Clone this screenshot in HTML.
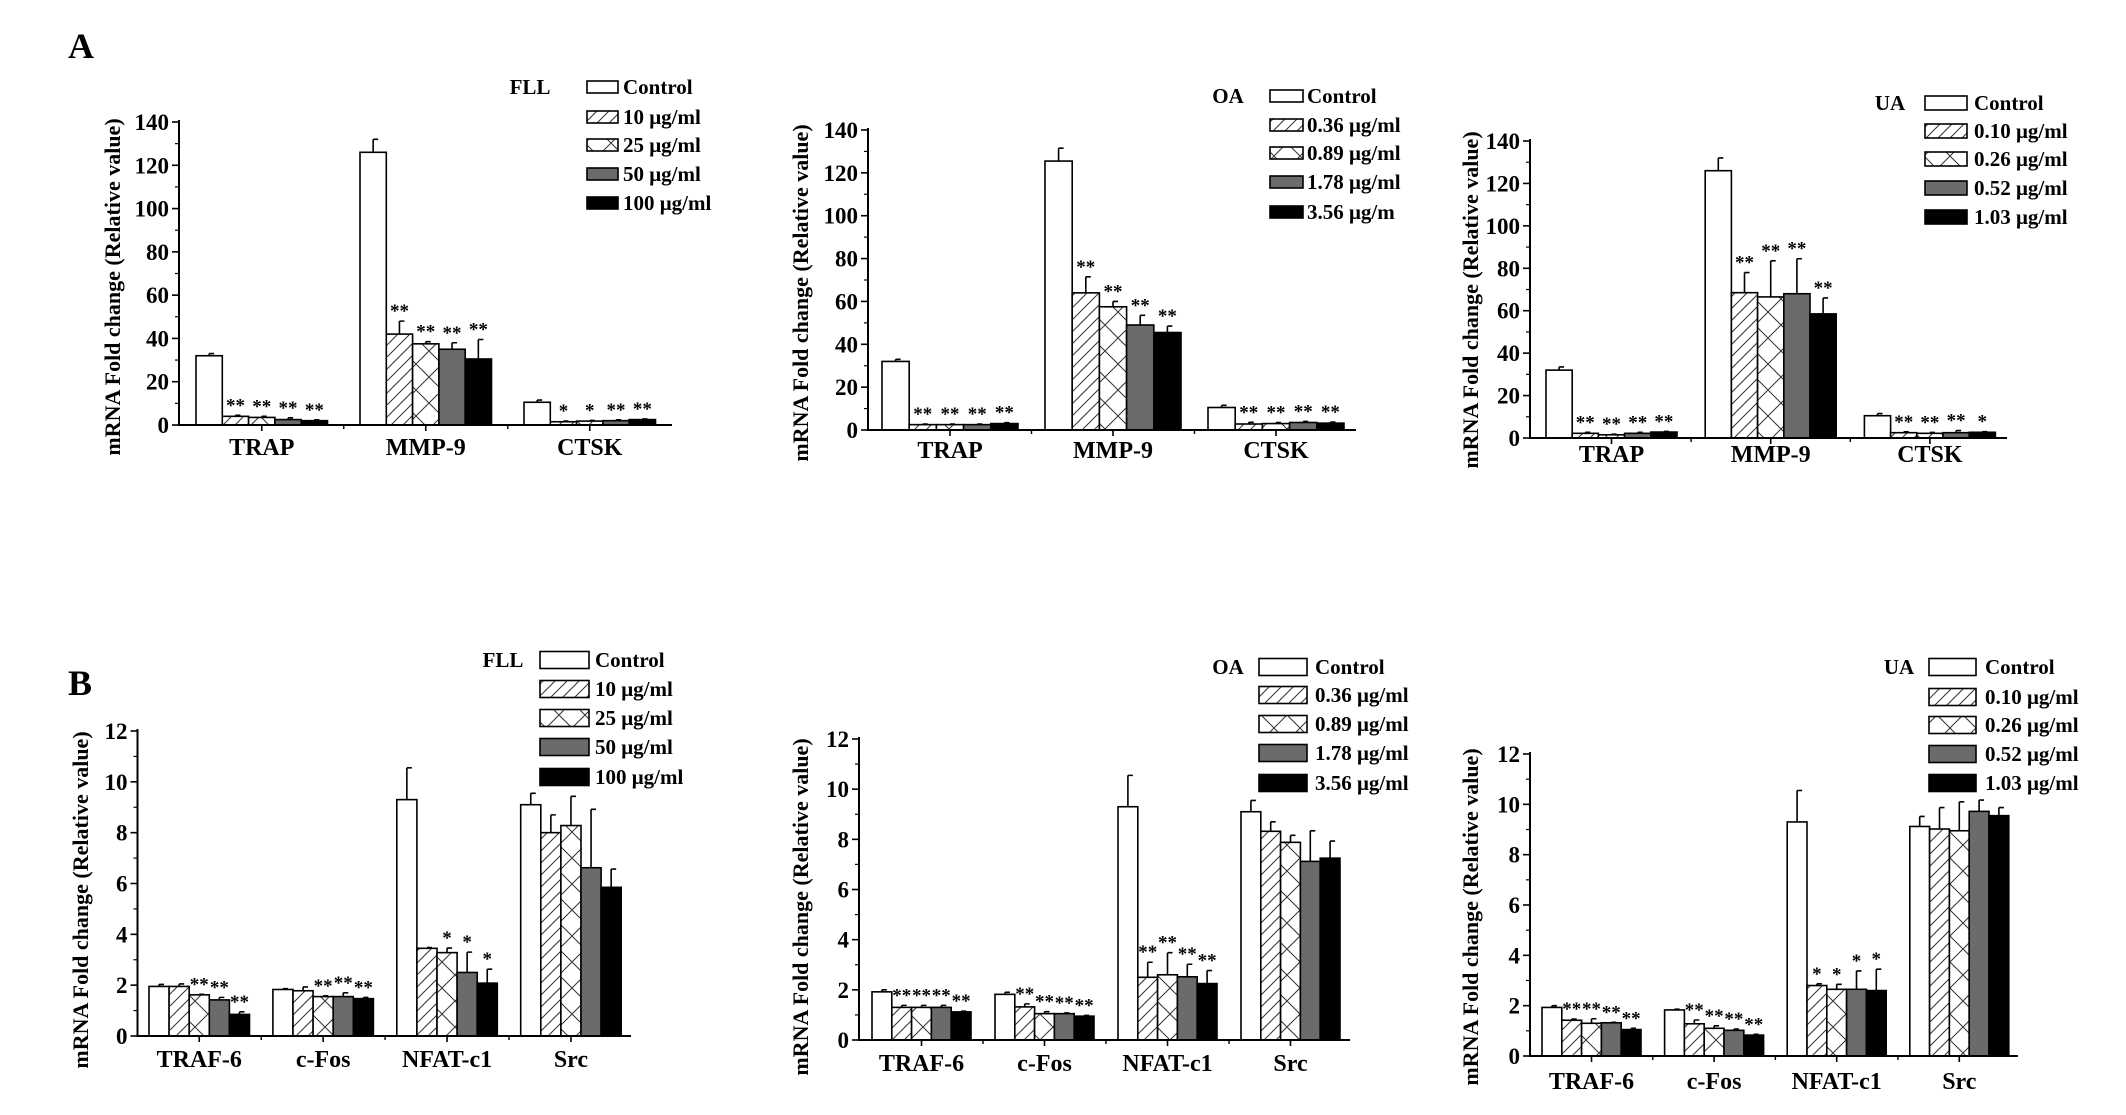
<!DOCTYPE html>
<html><head><meta charset="utf-8"><style>
html,body{margin:0;padding:0;background:#fff;}
svg{display:block;}
text{font-family:"Liberation Serif",serif;font-weight:bold;fill:#000;}
</style></head><body>
<svg id="fig" width="2126" height="1115" viewBox="0 0 2126 1115" xmlns="http://www.w3.org/2000/svg">
<defs>
<pattern id="hatch" patternUnits="userSpaceOnUse" width="12" height="12" patternTransform="rotate(0)">
<rect width="12" height="12" fill="#fff"/>
<path d="M-3,15 L15,-3 M-3,3 L3,-3 M9,15 L15,9" stroke="#333" stroke-width="1"/>
</pattern>
<pattern id="cross" patternUnits="userSpaceOnUse" width="26" height="26">
<rect width="26" height="26" fill="#fff"/>
<path d="M0,0 L26,26 M26,0 L0,26" stroke="#333" stroke-width="1"/>
</pattern>
</defs>
<text x="68" y="58" font-size="36">A</text>
<text x="68" y="695" font-size="36">B</text>
</svg>
<script>
// ---- data ----
const catsA = ["TRAP", "MMP-9", "CTSK"];
const catsB = ["TRAF-6", "c-Fos", "NFAT-c1", "Src"];
const legFLL = ["Control", "10 μg/ml", "25 μg/ml", "50 μg/ml", "100 μg/ml"];
const legOA = ["Control", "0.36 μg/ml", "0.89 μg/ml", "1.78 μg/ml", "3.56 μg/ml"];
const legOAcut = ["Control", "0.36 μg/ml", "0.89 μg/ml", "1.78 μg/ml", "3.56 μg/m"];
const legUA = ["Control", "0.10 μg/ml", "0.26 μg/ml", "0.52 μg/ml", "1.03 μg/ml"];
const ticksA = [0, 20, 40, 60, 80, 100, 120, 140];
const ticksB = [0, 2, 4, 6, 8, 10, 12];

const aFllVals = [[32, 4, 3.5, 2.5, 2], [126, 42, 37.5, 35, 30.5], [10.5, 1.5, 1.8, 2, 2.5]];
const aFllErr = [[1, 0.5, 0.5, 0.8, 0.4], [6, 6, 1, 3, 9], [1, 0.3, 0.3, 0.4, 0.3]];
const aFllStars = [["", "**", "**", "**", "**"], ["", "**", "**", "**", "**"], ["", "*", "*", "**", "**"]];

const aOaVals = [[32, 2.5, 2.5, 2.5, 3], [125.5, 64, 57.5, 49, 45.5], [10.5, 2.8, 3, 3.5, 3.2]];
const aOaErr = [[1, 0.3, 0.3, 0.3, 0.4], [6, 7.5, 2.5, 4.5, 3], [1, 0.8, 0.5, 0.5, 0.5]];
const aOaStars = [["", "**", "**", "**", "**"], ["", "**", "**", "**", "**"], ["", "**", "**", "**", "**"]];

const aUaVals = [[32, 2.2, 1.5, 2.2, 2.8], [126, 68.5, 66.5, 68, 58.5], [10.5, 2.5, 2.2, 2.5, 2.7]];
const aUaErr = [[1.5, 0.5, 0.3, 0.5, 0.3], [6, 9.5, 17, 16.5, 7.5], [1, 0.4, 0.4, 1, 0.3]];
const aUaStars = [["", "**", "**", "**", "**"], ["", "**", "**", "**", "**"], ["", "**", "**", "**", "*"]];

const bFllVals = [[1.95, 1.95, 1.62, 1.42, 0.85], [1.83, 1.78, 1.55, 1.55, 1.47], [9.3, 3.45, 3.28, 2.5, 2.08], [9.1, 8.0, 8.28, 6.62, 5.85]];
const bFllErr = [[0.08, 0.1, 0.02, 0.1, 0.1], [0.03, 0.15, 0.03, 0.15, 0.05], [1.25, 0.03, 0.18, 0.8, 0.55], [0.45, 0.7, 1.15, 2.3, 0.72]];
const bFllStars = [["", "", "**", "**", "**"], ["", "", "**", "**", "**"], ["", "", "*", "*", "*"], ["", "", "", "", ""]];

const bOaVals = [[1.92, 1.3, 1.3, 1.3, 1.12], [1.82, 1.32, 1.05, 1.05, 0.95], [9.3, 2.5, 2.6, 2.52, 2.25], [9.1, 8.32, 7.88, 7.12, 7.25]];
const bOaErr = [[0.08, 0.08, 0.08, 0.08, 0.03], [0.08, 0.12, 0.08, 0.03, 0.03], [1.25, 0.6, 0.88, 0.5, 0.52], [0.45, 0.38, 0.28, 1.22, 0.68]];
const bOaStars = [["", "**", "**", "**", "**"], ["", "**", "**", "**", "**"], ["", "**", "**", "**", "**"], ["", "", "", "", ""]];

const bUaVals = [[1.93, 1.42, 1.3, 1.32, 1.05], [1.83, 1.28, 1.1, 1.02, 0.83], [9.3, 2.8, 2.65, 2.65, 2.6], [9.12, 9.02, 8.95, 9.72, 9.55]];
const bUaErr = [[0.07, 0.05, 0.18, 0.02, 0.05], [0.03, 0.15, 0.1, 0.05, 0.03], [1.25, 0.07, 0.2, 0.73, 0.85], [0.4, 0.85, 1.15, 0.45, 0.32]];
const bUaStars = [["", "**", "**", "**", "**"], ["", "**", "**", "**", "**"], ["", "*", "*", "*", "*"], ["", "", "", "", ""]];

// ---- drawing ----
const svg = document.getElementById('fig');
const NS = 'http://www.w3.org/2000/svg';
const fills = ['#fff', 'url(#hatch)', 'url(#cross)', '#6b6b6b', '#000'];
function mk(tag, attrs, parent) {
  const e = document.createElementNS(NS, tag);
  for (const k in attrs) e.setAttribute(k, attrs[k]);
  (parent || svg).appendChild(e);
  return e;
}
function drawPanel(cfg) {
  const g = mk('g', {});
  
  
  const ymax = cfg.ticks[cfg.ticks.length - 1];
  const yS = v => cfg.y0 - (v / ymax) * (cfg.y0 - cfg.yTop);
  const xS = (gi, bi) => cfg.g0 + gi * cfg.step + bi * cfg.bw;
  // bars
  cfg.vals.forEach((arr, gi) => {
    arr.forEach((v, bi) => {
      const x = xS(gi, bi), y = yS(v);
      const r = mk('rect', {x: x, y: y, width: cfg.bw, height: cfg.y0 - y, fill: fills[bi], stroke: '#000', 'stroke-width': 1.6}, g);
      
      
      const ye = yS(v + cfg.err[gi][bi]);
      const xc = x + cfg.bw / 2;
      const eb = mk('path', {d: `M${xc},${y} L${xc},${ye} M${xc},${ye} L${xc + 5},${ye}`, stroke: '#000', 'stroke-width': 1.6, fill: 'none'}, g);
      
      
      const s = cfg.stars[gi][bi];
      if (s) {
        const t = mk('text', {x: xc, y: ye - 4, 'font-size': 19, 'text-anchor': 'middle'}, g);
        t.textContent = s;
        
        
      }
    });
  });
  // axes
  const ax = mk('path', {d: `M${cfg.ax},${cfg.yTop - 2} L${cfg.ax},${cfg.y0} L${cfg.xEnd},${cfg.y0}`, stroke: '#000', 'stroke-width': 2, fill: 'none'}, g);
  
  
  cfg.ticks.forEach((tv, i) => {
    const y = yS(tv);
    mk('line', {x1: cfg.ax - 7, x2: cfg.ax, y1: y, y2: y, stroke: '#000', 'stroke-width': 1.6}, g);
    if (i < cfg.ticks.length - 1) {
      const ym = yS((tv + cfg.ticks[i + 1]) / 2);
      mk('line', {x1: cfg.ax - 4, x2: cfg.ax, y1: ym, y2: ym, stroke: '#000', 'stroke-width': 1.2}, g);
    }
    const t = mk('text', {x: cfg.ax - 10, y: y + 8, 'font-size': 23, 'text-anchor': 'end'}, g);
    t.textContent = tv;
    
    
  });
  const gw = 5 * cfg.bw;
  cfg.cats.forEach((c, gi) => {
    const xc = cfg.g0 + gi * cfg.step + gw / 2;
    mk('line', {x1: xc, x2: xc, y1: cfg.y0, y2: cfg.y0 + 6, stroke: '#000', 'stroke-width': 1.6}, g);
    if (gi > 0) {
      const xb = cfg.g0 + gi * cfg.step - (cfg.step - gw) / 2;
      mk('line', {x1: xb, x2: xb, y1: cfg.y0, y2: cfg.y0 + 4, stroke: '#000', 'stroke-width': 1.4}, g);
    }
    const t = mk('text', {x: xc, y: cfg.labY, 'font-size': 24, 'text-anchor': 'middle'}, g);
    t.textContent = c;
    
    
  });
  const tt = mk('text', {x: 0, y: 0, 'font-size': 22, 'text-anchor': 'middle', transform: `translate(${cfg.titleX},${cfg.titleY}) rotate(-90)`}, g);
  tt.textContent = 'mRNA Fold change (Relative value)';
  
  
  // legend
  const lg = mk('g', {}, g);
  
  
  const lt = mk('text', {x: cfg.legTitleX, y: cfg.legRows[0] + 7, 'font-size': 21, 'text-anchor': 'middle'}, lg);
  lt.textContent = cfg.legTitle;
  
  
  cfg.leg.forEach((l, i) => {
    const y = cfg.legRows[i];
    const r = mk('rect', {x: cfg.boxX, y: y - cfg.boxH / 2, width: cfg.boxW, height: cfg.boxH, fill: fills[i], stroke: '#000', 'stroke-width': 1.6}, lg);
    
    
    const t = mk('text', {x: cfg.textX, y: y + 7, 'font-size': 21}, lg);
    t.textContent = l;
    
    
  });
}

drawPanel({name: 'chart-a-fll', cats: catsA, vals: aFllVals, err: aFllErr, stars: aFllStars, ticks: ticksA,
  ax: 179, y0: 425, yTop: 122, g0: 196, step: 164, bw: 26.3, xEnd: 672, labY: 455, titleX: 120, titleY: 287,
  legTitle: 'FLL', leg: legFLL, legTitleX: 530, legRows: [87, 117, 145, 174, 203], boxX: 587, boxW: 31, boxH: 12, textX: 623});
drawPanel({name: 'chart-a-oa', cats: catsA, vals: aOaVals, err: aOaErr, stars: aOaStars, ticks: ticksA,
  ax: 868, y0: 430, yTop: 130, g0: 882, step: 163, bw: 27.2, xEnd: 1356, labY: 458, titleX: 808, titleY: 293,
  legTitle: 'OA', leg: legOAcut, legTitleX: 1228, legRows: [96, 125, 153, 182, 212], boxX: 1270, boxW: 33, boxH: 12, textX: 1307});
drawPanel({name: 'chart-a-ua', cats: catsA, vals: aUaVals, err: aUaErr, stars: aUaStars, ticks: ticksA,
  ax: 1530, y0: 438, yTop: 141, g0: 1546, step: 159.2, bw: 26.2, xEnd: 2007, labY: 462, titleX: 1478, titleY: 300,
  legTitle: 'UA', leg: legUA, legTitleX: 1890, legRows: [103, 131, 159, 188, 217], boxX: 1925, boxW: 42, boxH: 14, textX: 1974});
drawPanel({name: 'chart-b-fll', cats: catsB, vals: bFllVals, err: bFllErr, stars: bFllStars, ticks: ticksB,
  ax: 137.5, y0: 1036, yTop: 731, g0: 149, step: 123.9, bw: 20.1, xEnd: 631, labY: 1067, titleX: 88, titleY: 900,
  legTitle: 'FLL', leg: legFLL, legTitleX: 503, legRows: [660, 689, 718, 747, 777], boxX: 540, boxW: 49, boxH: 17, textX: 595});
drawPanel({name: 'chart-b-oa', cats: catsB, vals: bOaVals, err: bOaErr, stars: bOaStars, ticks: ticksB,
  ax: 859, y0: 1040, yTop: 739, g0: 872, step: 123, bw: 19.8, xEnd: 1350, labY: 1071, titleX: 808, titleY: 907,
  legTitle: 'OA', leg: legOA, legTitleX: 1228, legRows: [667, 695, 724, 753, 783], boxX: 1259, boxW: 48, boxH: 17, textX: 1315});
drawPanel({name: 'chart-b-ua', cats: catsB, vals: bUaVals, err: bUaErr, stars: bUaStars, ticks: ticksB,
  ax: 1530, y0: 1056, yTop: 754, g0: 1542, step: 122.6, bw: 19.8, xEnd: 2018, labY: 1089, titleX: 1478, titleY: 917,
  legTitle: 'UA', leg: legUA, legTitleX: 1899, legRows: [667, 697, 725, 754, 783], boxX: 1929, boxW: 47, boxH: 17, textX: 1985});
</script>
</body></html>
